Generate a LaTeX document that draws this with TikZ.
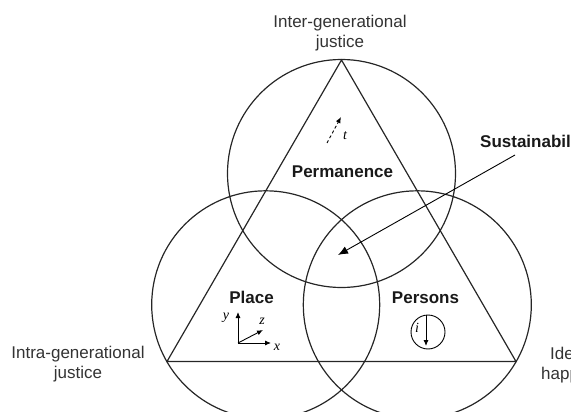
\documentclass[tikz,border=0pt]{standalone}
\usepackage{fontspec}
\setmainfont{Liberation Sans}
\newfontfamily\lblserif{Liberation Serif}
\usetikzlibrary{arrows.meta}
\begin{document}
\begin{tikzpicture}[x=1pt,y=-1pt,
  ring/.style={draw=black!85, line width=1.2pt},
  lbl/.style={font=\fontsize{17}{20}\selectfont, align=center, inner sep=0pt, text=black!80},
  blbl/.style={font=\fontsize{17}{20}\selectfont\bfseries, inner sep=0pt, text=black!90},
  var/.style={font=\fontsize{14}{16}\selectfont\lblserif\itshape, inner sep=0pt},
  thin/.style={draw=black, line width=0.9pt}]
\useasboundingbox (0,0) rectangle (571,412);
\clip (0,0) rectangle (571,412);
% geometry
\coordinate (ctop) at (341.5,173.5);
\coordinate (cleft) at (265.7,304.8);
\coordinate (cright) at (417.3,304.8);
\coordinate (A) at (341.5,60);
\coordinate (B) at (167,361.5);
\coordinate (C) at (516,361.5);
\draw[ring] (ctop) circle[radius=114];
\draw[ring] (cleft) circle[radius=114];
\draw[ring] (cright) circle[radius=114];
\draw[ring] (A) -- (B) -- (C) -- cycle;
% labels
\node[lbl] (inter) at (340,33.5) {Inter-generational\\justice};
\node[lbl] (intra) at (78,364.5) {Intra-generational\\justice};
\node[lbl, anchor=base west] (ide) at (550,359) {Ide};
\node[lbl, anchor=base west] (happ) at (541,379) {happ};
\node[blbl] (perm) at (342.5,172) {Permanence};
\node[blbl] (place) at (251.5,297.5) {Place};
\node[blbl] (pers) at (425.5,298) {Persons};
\node[blbl, anchor=west] (sust) at (480,141) {Sustainabil};
% sustainability arrow
\coordinate (sstart) at (515,155);
\coordinate (send) at (338,255);
\draw[thin, -{Latex[length=10pt,width=8pt]}] (sstart) -- (send);
% time arrow
\coordinate (t0) at (327,143);
\coordinate (t1) at (341,117);
\draw[thin, dash pattern=on 3pt off 2.5pt, -{Latex[length=6pt,width=5pt]}] (t0) -- (t1);
\node[var] (tl) at (345,136) {t};
% axes
\coordinate (O) at (238,343);
\coordinate (ye) at (238,312);
\coordinate (xe) at (271,343);
\coordinate (ze) at (263,330);
\draw[thin, -{Latex[length=6pt,width=5pt]}] (O) -- (ye);
\draw[thin, -{Latex[length=6pt,width=5pt]}] (O) -- (xe);
\draw[thin, -{Latex[length=6pt,width=5pt]}] (O) -- (ze);
\node[var] (yl) at (226,318) {y};
\node[var] (xl) at (277,347) {x};
\node[var] (zl) at (262,321) {z};
% persons icon
\node[circle, draw=black, line width=0.9pt, minimum size=34pt, inner sep=0pt] (icirc) at (428,332) {};
\coordinate (ia) at (426,315);
\coordinate (ib) at (426,346);
\draw[thin, -{Latex[length=6pt,width=5pt]}] (ia) -- (ib);
\node[var] (il) at (417,328) {i};
\end{tikzpicture}
\end{document}
